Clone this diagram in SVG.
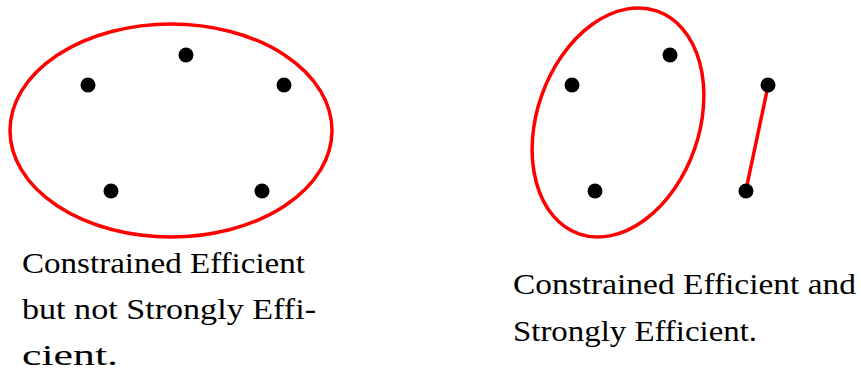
<svg xmlns="http://www.w3.org/2000/svg" width="861" height="374" viewBox="0 0 861 374">
<style>
.bg{fill:#fff}
.set{fill:none;stroke:#f00;stroke-width:3.5}
.dot{fill:#000}
.edge{stroke:#f00;stroke-width:3.5;stroke-linecap:butt}
.lbl{font-family:'Liberation Serif','Times New Roman',serif;font-size:30px;fill:#000}
</style>
<rect class="bg" x="0" y="0" width="861" height="374"/>
<g id="left-set">
<ellipse class="set" cx="171" cy="130.5" rx="161" ry="106.5"/>
</g>
<g id="right-set">
<ellipse class="set" cx="618" cy="122.5" rx="81" ry="118" transform="rotate(19.4 618 122.5)"/>
</g>
<g id="connectors">
<line class="edge" x1="768" y1="86" x2="746" y2="190"/>
</g>
<g id="left-dots">
<circle id="l1" class="dot" cx="186" cy="55" r="7.5"/>
<circle id="l2" class="dot" cx="88" cy="85" r="7.5"/>
<circle id="l3" class="dot" cx="284" cy="85" r="7.5"/>
<circle id="l4" class="dot" cx="111" cy="191" r="7.5"/>
<circle id="l5" class="dot" cx="262" cy="191" r="7.5"/>
</g>
<g id="right-dots">
<circle id="r1" class="dot" cx="670" cy="55" r="7.5"/>
<circle id="r2" class="dot" cx="572" cy="85" r="7.5"/>
<circle id="r3" class="dot" cx="595" cy="191" r="7.5"/>
<circle id="r4" class="dot" cx="768" cy="85" r="7.5"/>
<circle id="r5" class="dot" cx="746" cy="191" r="7.5"/>
</g>
<g id="left-label">
<text class="lbl" x="22" y="273" textLength="283" lengthAdjust="spacingAndGlyphs">Constrained Efficient</text>
<text class="lbl" x="22" y="319" textLength="294" lengthAdjust="spacingAndGlyphs">but not Strongly Effi-</text>
<text class="lbl" x="22" y="365" textLength="96" lengthAdjust="spacingAndGlyphs">cient.</text>
</g>
<g id="right-label">
<text class="lbl" x="513" y="294" textLength="343" lengthAdjust="spacingAndGlyphs">Constrained Efficient and</text>
<text class="lbl" x="513" y="341" textLength="244" lengthAdjust="spacingAndGlyphs">Strongly Efficient.</text>
</g>
</svg>
